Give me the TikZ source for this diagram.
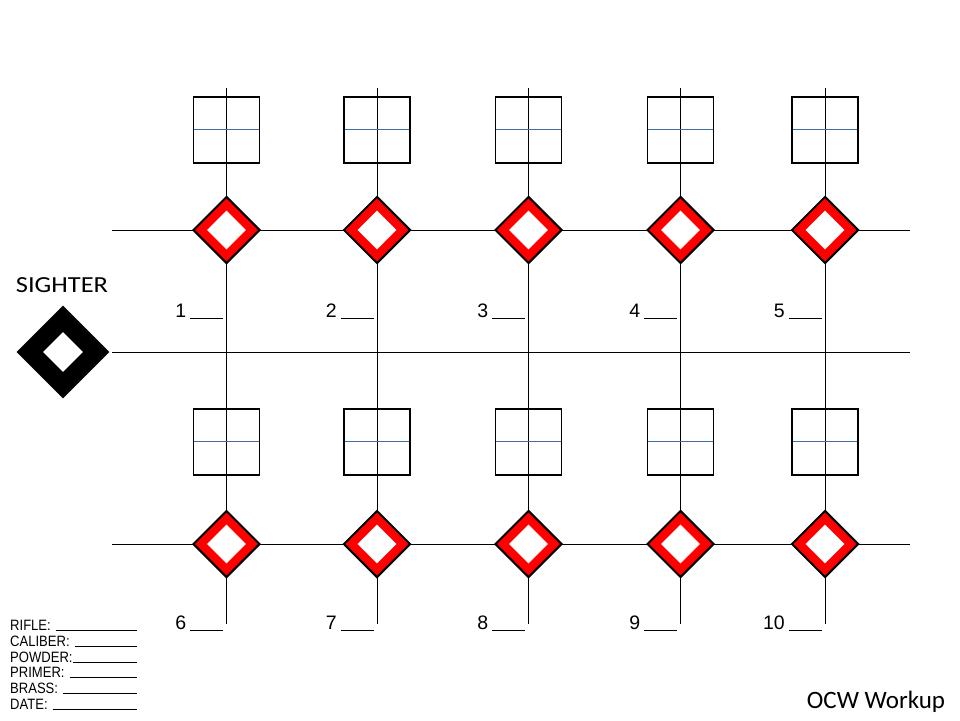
\documentclass[tikz,border=0pt]{standalone}
\usepackage{fontspec}
\setmainfont{Liberation Sans}
\newfontfamily\calfont{Carlito}
\newfontfamily\widecalfont[FakeStretch=1.15]{Carlito}
\newfontfamily\formfont[FakeStretch=0.87]{Liberation Sans}
\usetikzlibrary{shapes.geometric}
\usetikzlibrary{positioning}
\definecolor{crossblue}{RGB}{66,108,160}
\newcommand{\blankline}[1]{\rule[-1.5pt]{#1}{0.9pt}}
\newcommand{\formfill}{\leaders\hrule height 0.3pt depth 0.6pt\hfill\kern0pt}
\tikzset{
	gridline/.style={draw, line width=0.8pt},
	target/.style={diamond, draw, line width=2pt, fill=red, minimum size=67pt, inner sep=0pt},
	targetcore/.style={diamond, fill=white, minimum size=39pt, inner sep=0pt},
	sighter/.style={diamond, fill=black, minimum size=93pt, inner sep=0pt},
	plotbox/.style={rectangle, draw, line width=1.6pt, minimum size=66pt, inner sep=0pt,
		path picture={\draw[crossblue, line width=0.8pt] (path picture bounding box.west) -- (path picture bounding box.east);}},
	shotlabel/.style={anchor=base east, inner sep=0pt, font=\fontsize{19.5}{20}\selectfont},
	formline/.style={anchor=base west, inner sep=0pt, text width=127pt, align=left, font=\formfont\fontsize{15}{16}\selectfont}
}

\begin{document}
\begin{tikzpicture}[x=1pt, y=-1pt]
\useasboundingbox (0,0) rectangle (960,720);

% grid lines
\foreach \x [count=\i] in {226.5,377,528.5,680.5,825}{
	\coordinate (vtop\i) at (\x,88);
	\coordinate (vbot\i) at (\x,624);
	\draw[gridline] (vtop\i) -- (vbot\i);
}
\foreach \y [count=\k] in {230,352,544}{
	\coordinate (hleft\k) at (112,\y);
	\coordinate (hright\k) at (910,\y);
	\draw[gridline] (hleft\k) -- (hright\k);
}

% targets, boxes and shot numbers
\foreach \x [count=\i] in {226.5,377,528.5,680.5,825}{
	\pgfmathtruncatemacro{\j}{\i+5}
	\node[target] (top\i) at (\x,230) {};
	\node[targetcore] (topcore\i) at (top\i) {};
	\node[plotbox, above=32pt of top\i] (topbox\i) {};
	\node[shotlabel] (toplabel\i) at (\x-3,317) {\i\hspace{4pt}\blankline{33pt}};

	\node[target] (bot\i) at (\x,544) {};
	\node[targetcore] (botcore\i) at (bot\i) {};
	\node[plotbox, above=34pt of bot\i] (botbox\i) {};
	\node[shotlabel] (botlabel\i) at (\x-3,629.5) {\j\hspace{4pt}\blankline{33pt}};
}

% sighter
\node[sighter] (sighter) at (63,352) {};
\node[targetcore, minimum size=40pt] (sightercore) at (sighter) {};
\node[anchor=base, inner sep=0pt, font=\widecalfont\fontsize{23}{25}\selectfont] (sightertext) at (62,292) {SIGHTER};

% load data
\foreach \fld/\y/\nm in {RIFLE:~/630/rifle, CALIBER:~/646/caliber, POWDER:/662/powder, PRIMER:~/677/primer, BRASS:~/693/brass, DATE:~/709/date}{
	\node[formline] (\nm) at (10,\y) {\fld\formfill};
}

\node[anchor=base, inner sep=0pt, font=\calfont\fontsize{25}{28}\selectfont] (title) at (876,708) {OCW Workup};

\end{tikzpicture}
\end{document}
